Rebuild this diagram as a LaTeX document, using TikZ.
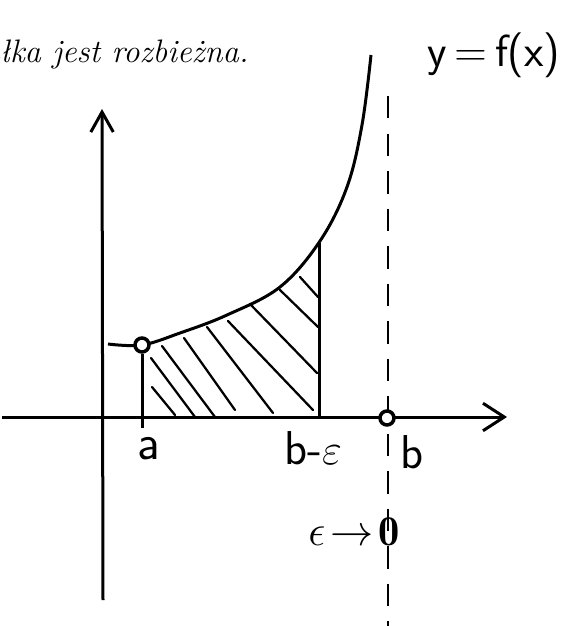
\documentclass[tikz,border=0pt]{standalone}
\usepackage{fontspec}
\usetikzlibrary{arrows.meta}
\begin{document}
\begin{tikzpicture}[x=0.4pt,y=-0.4pt,
  axis/.style={line width=1.2pt},
  curvestyle/.style={line width=1.2pt, line join=round},
  hatch/.style={line width=0.9pt, line cap=round},
  asym/.style={line width=1pt, dash pattern=on 9pt off 6pt},
  dot/.style={circle, draw, line width=1.4pt, fill=white, minimum size=5.6pt, inner sep=0pt},
  hand/.style={font=\sffamily\fontsize{#1}{#1}\selectfont, inner sep=0pt}]
\useasboundingbox (0,0) rectangle (580,626);
% title text
\node[anchor=base east, inner sep=0pt, font=\fontsize{13}{15}\selectfont\itshape] (title) at (249,63) {ałka jest rozbieżna.};
% axes
\coordinate (yb) at (103,600);
\coordinate (yt) at (102,109);
\coordinate (xl) at (2,417);
\coordinate (xr) at (507,417);
\draw[axis, -{Straight Barb[length=8pt,width=9pt,line width=1.2pt]}] (yb) -- (yt);
\draw[axis, -{Straight Barb[length=8.5pt,width=11pt,line width=1.2pt]}] (xl) -- (xr);
% asymptote
\coordinate (dt) at (388,96);
\coordinate (db) at (388,626);
\draw[asym] (dt) -- (db);
% curve
\draw[curvestyle] plot[smooth, tension=0.6] coordinates {(108,344) (142,345) (180,333) (227,315) (280,287) (320,241) (347,187) (362,125) (371,55)};
% verticals
\coordinate (ab) at (142,428);
\coordinate (bt) at (319,243);
\coordinate (bb) at (319,417);
\node[dot] (pa) at (142,345) {};
\draw[axis] (pa) -- (ab);
\draw[axis] (bt) -- (bb);
% hatching
\draw[hatch] (152,387) -- (175,415);
\draw[hatch] (151,358) -- (195,417);
\draw[hatch] (162,346) -- (215,417);
\draw[hatch] (184,338) -- (235,410);
\draw[hatch] (207,327) -- (273,413);
\draw[hatch] (228,321) -- (313,410);
\draw[hatch] (250,304) -- (317,373);
\draw[hatch] (280,290) -- (318,327);
\draw[hatch] (300,277) -- (318,297);
% point b
\node[dot] (pb) at (387,418) {};
% labels
\node[hand=20] (la) at (149,449) {a};
\node[hand=19] (lbe) at (313,448) {b-$\varepsilon$};
\node[hand=19] (lb) at (412,452) {b};
\node[hand=17] (lim) at (354,532) {$\epsilon\!\to\!\mathbf{0}$};
\node[hand=18] (fx) at (494,55) {y\,=\,f(x)};
\end{tikzpicture}
\end{document}
